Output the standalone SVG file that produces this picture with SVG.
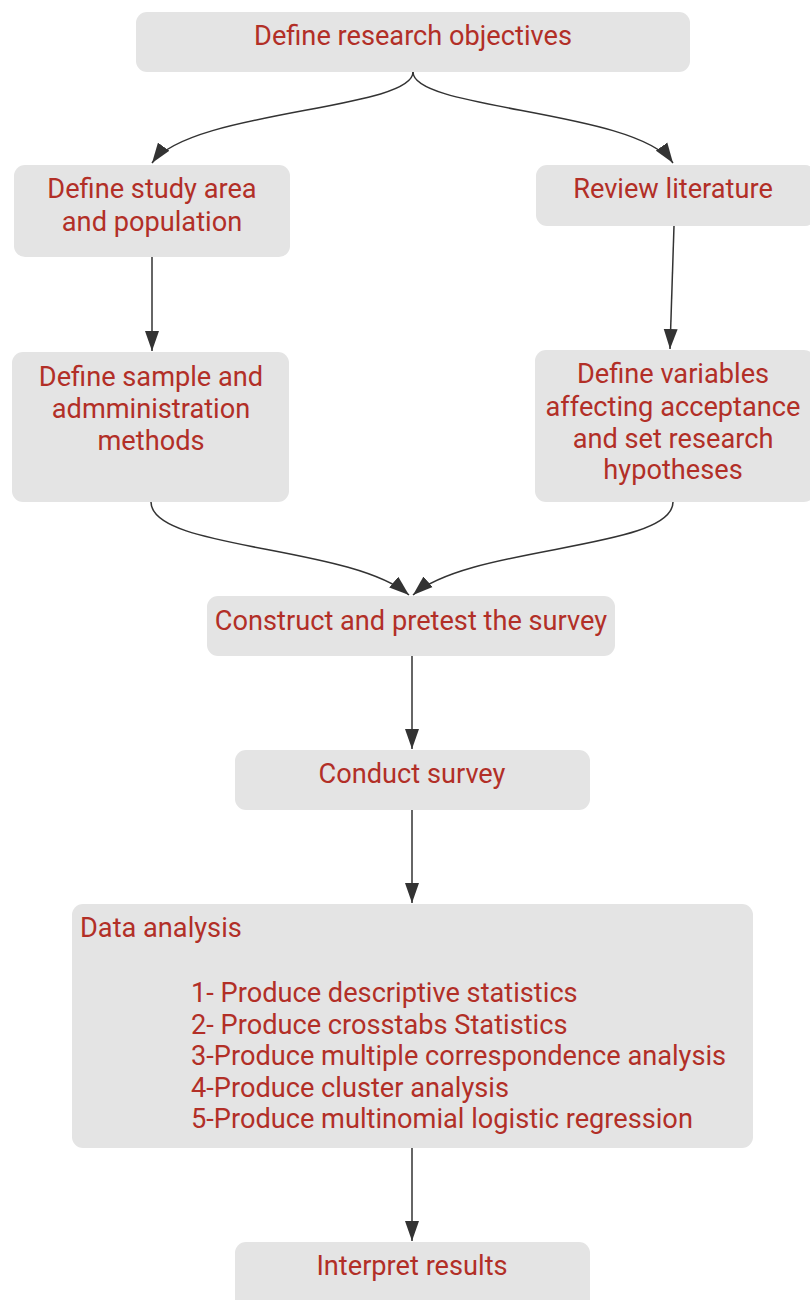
<svg xmlns="http://www.w3.org/2000/svg" width="810" height="1300" viewBox="0 0 810 1300">
<defs>
<marker id="arr" viewBox="0 0 10 7" refX="10" refY="3.5" markerWidth="20" markerHeight="14.5" markerUnits="userSpaceOnUse" orient="auto">
<path d="M0,0 L10,3.5 L0,7 Z" fill="#333"/>
</marker>
<style>
.box{fill:#e4e4e4;}
.t{font-family:Roboto,"Liberation Sans",sans-serif;font-size:27.2px;fill:#b22f27;text-anchor:middle;}
.l{text-anchor:start;}
.c{fill:none;stroke:#333;stroke-width:1.5;marker-end:url(#arr);}
</style>
</defs>
<rect width="810" height="1300" fill="#fff"/>
<g id="connectors">
<path class="c" d="M413,72 C413,110 190,110 152,163"/>
<path class="c" d="M413,72 C413,110 636,110 673,163"/>
<path class="c" d="M152,257 L152,351"/>
<path class="c" d="M674,226 L670,349"/>
<path class="c" d="M151,502 C151,550 350,545 409,595"/>
<path class="c" d="M673,502 C673,550 470,545 413,595"/>
<path class="c" d="M412,656 L412,749"/>
<path class="c" d="M412,810 L412,903"/>
<path class="c" d="M412,1148 L412,1241"/>
</g>
<g id="n1"><rect class="box" x="136" y="12" width="554" height="60" rx="11"/><text class="t" x="413" y="45">Define research objectives</text></g>
<g id="n2"><rect class="box" x="14" y="165" width="276" height="92" rx="11"/><text class="t" x="152" y="198">Define study area</text><text class="t" x="152" y="231">and population</text></g>
<g id="n3"><rect class="box" x="536" y="165" width="280" height="61" rx="11"/><text class="t" x="673" y="198">Review literature</text></g>
<g id="n4"><rect class="box" x="12" y="352" width="277" height="150" rx="11"/><text class="t" x="151" y="386">Define sample and</text><text class="t" x="151" y="418">admministration</text><text class="t" x="151" y="450">methods</text></g>
<g id="n5"><rect class="box" x="535" y="350" width="280" height="152" rx="11"/><text class="t" x="673" y="383">Define variables</text><text class="t" x="673" y="416">affecting acceptance</text><text class="t" x="673" y="448">and set research</text><text class="t" x="673" y="479">hypotheses</text></g>
<g id="n6"><rect class="box" x="207" y="596" width="408" height="60" rx="11"/><text class="t" x="411" y="630">Construct and pretest the survey</text></g>
<g id="n7"><rect class="box" x="235" y="750" width="355" height="60" rx="11"/><text class="t" x="412" y="783">Conduct survey</text></g>
<g id="n8"><rect class="box" x="72" y="904" width="681" height="244" rx="11"/>
<text class="t l" x="80" y="937">Data analysis</text>
<text class="t l" x="191" y="1002">1- Produce descriptive statistics</text>
<text class="t l" x="191" y="1034">2- Produce crosstabs Statistics</text>
<text class="t l" x="191" y="1065">3-Produce multiple correspondence analysis</text>
<text class="t l" x="191" y="1097">4-Produce cluster analysis</text>
<text class="t l" x="191" y="1128">5-Produce multinomial logistic regression</text>
</g>
<g id="n9"><rect class="box" x="235" y="1242" width="355" height="70" rx="11"/><text class="t" x="412" y="1275">Interpret results</text></g>
</svg>
